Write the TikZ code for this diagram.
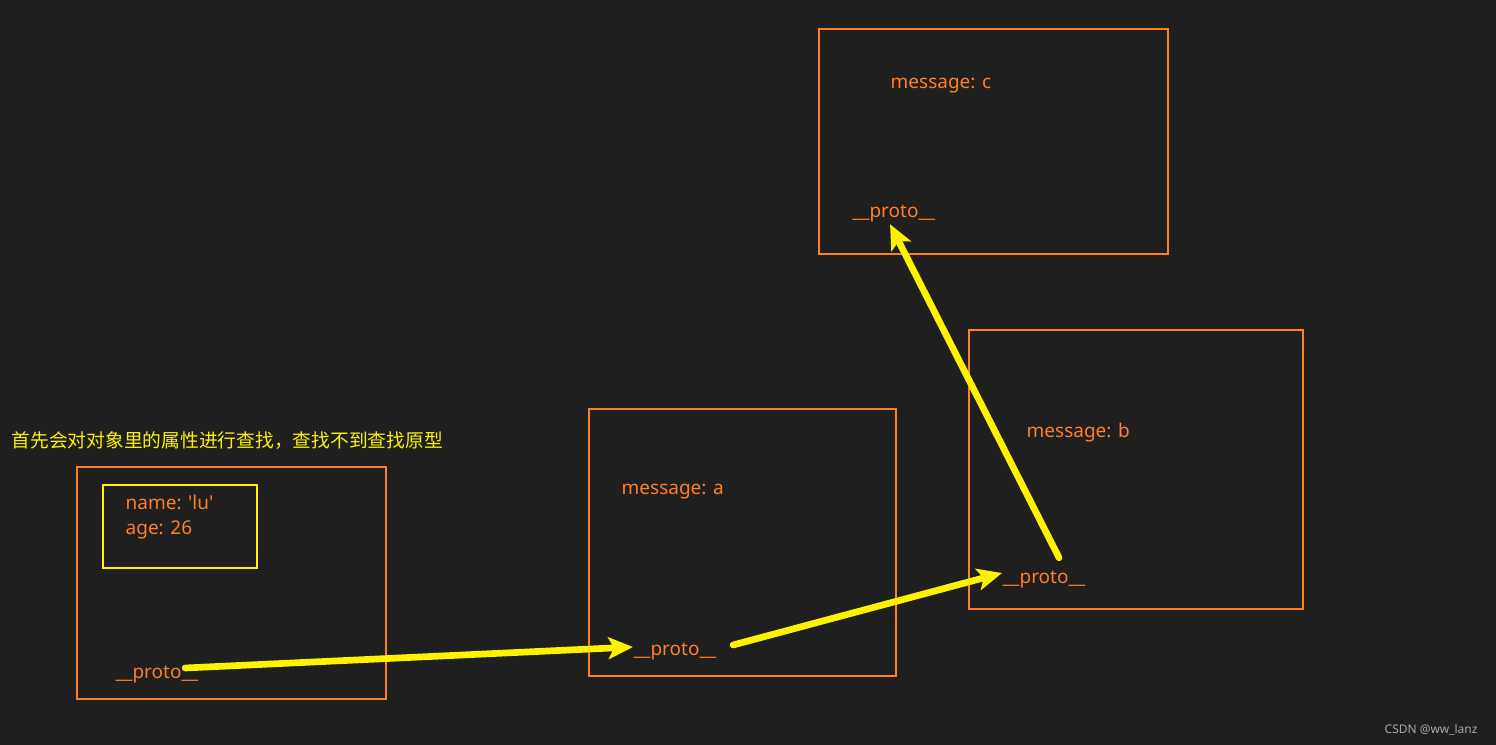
\documentclass[tikz,border=0pt]{standalone}
\usepackage{fontspec}
\setmainfont{Noto Sans}
\newfontfamily\cjkfont{Noto Sans CJK SC}
\usepackage{tikz}
\usetikzlibrary{arrows.meta}
\definecolor{bgdark}{HTML}{1F1F1F}
\definecolor{boxorange}{HTML}{FF7F27}
\definecolor{markyellow}{HTML}{FFF200}
\definecolor{wmgray}{HTML}{A8A8A8}

\begin{document}
\begin{tikzpicture}[x=0.01cm, y=-0.01cm,
    box/.style={draw=boxorange, line width=0.6pt},
    field/.style={text=boxorange, inner sep=0pt, anchor=west, align=left,
                  font=\fontsize{5.4}{7.1}\selectfont},
    link/.style={-{Stealth[length=7pt, width=6.2pt, inset=1.6pt]},
                 line width=1.9pt, draw=markyellow, line cap=round}
  ]
    \fill[bgdark] (0,0) rectangle (1496,745);
    \useasboundingbox (0,0) rectangle (1496,745);

    \node[box, minimum width=3.09cm, minimum height=2.32cm] (objbox) at (231.5,583) {};
    \node[box, draw=markyellow, minimum width=1.54cm, minimum height=0.83cm] (ownbox) at (180,526.5) {};
    \node[box, minimum width=3.07cm, minimum height=2.67cm] (abox) at (742.5,542.5) {};
    \node[box, minimum width=3.34cm, minimum height=2.79cm] (bbox) at (1136,469.5) {};
    \node[box, minimum width=3.49cm, minimum height=2.25cm] (cbox) at (993.5,141.5) {};

    \node[field, text=markyellow, font=\cjkfont\fontsize{5.33}{6}\selectfont] (note) at (11,441)
      {首先会对对象里的属性进行查找，查找不到查找原型};
    \node[field] (own) at (125,517) {name: \textquotesingle lu\textquotesingle\\age: 26};
    \node[field] (msga) at (621,492) {message: a};
    \node[field] (msgb) at (1026,433) {message: b};
    \node[field] (msgc) at (890,86) {message: c};

    \node[field] (pobj) at (115,675) {\_\_proto\_\_};
    \node[field] (pa) at (633,652) {\_\_proto\_\_};
    \node[field] (pb) at (1002,580) {\_\_proto\_\_};
    \node[field] (pc) at (852,214) {\_\_proto\_\_};

    \node[field, text=wmgray, font=\fontsize{3.4}{4}\selectfont] (mark) at (1384,730) {CSDN @ww\_lanz};

    \draw[link] ([xshift=-0.14cm, yshift=0.07cm]pobj.east) -- ([yshift=0.05cm]pa.west);
    \draw[link] ([xshift=0.16cm, yshift=0.07cm]pa.east) -- ([yshift=0.07cm]pb.west);
    \draw[link] ([xshift=0.15cm, yshift=0.13cm]pb.north) -- ([xshift=-0.04cm, yshift=-0.01cm]pc.south);
  \end{tikzpicture}
\end{document}
